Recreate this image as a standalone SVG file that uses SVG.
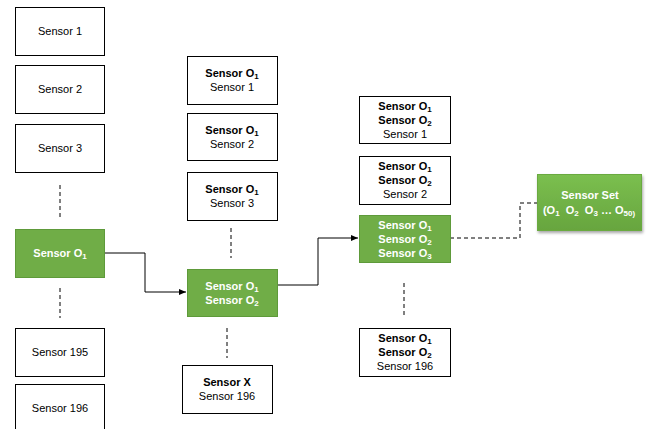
<svg xmlns="http://www.w3.org/2000/svg" width="649" height="429" viewBox="0 0 649 429">
<style>
text{font-family:"Liberation Sans","Open Sans",sans-serif;font-size:11px;text-anchor:middle;fill:#000}
.b{font-weight:bold}
.w{fill:#fff;font-weight:bold}
.s{font-size:8px}
.box{fill:#fff;stroke:#000;stroke-width:1}
.g{fill:#70AD47;stroke:#5E9A3A;stroke-width:1}
.dash{fill:none;stroke:#000;stroke-width:1;stroke-dasharray:4,3}
.ln{fill:none;stroke:#000;stroke-width:1}
</style>
<defs>
<marker id="ah" markerWidth="8" markerHeight="8" refX="7" refY="4" orient="auto" markerUnits="userSpaceOnUse"><path d="M0,1 L7,4 L0,7 Z" fill="#000"/></marker>
<filter id="sh" x="-10%" y="-10%" width="130%" height="140%"><feDropShadow dx="1" dy="2" stdDeviation="1.5" flood-color="#000" flood-opacity="0.35"/></filter>
<linearGradient id="gg" x1="0" y1="0" x2="0" y2="1"><stop offset="0" stop-color="#7BBF4F"/><stop offset="1" stop-color="#67A53E"/></linearGradient>
</defs>
<g id="connectors">
<line class="dash" x1="60" y1="185" x2="60" y2="218"/>
<line class="dash" x1="60" y1="288" x2="60" y2="318"/>
<line class="dash" x1="231" y1="228" x2="231" y2="258"/>
<line class="dash" x1="227" y1="328" x2="227" y2="358"/>
<line class="dash" x1="404" y1="283" x2="404" y2="315"/>
<polyline class="ln" points="104,253 145,253 145,292 186,292" marker-end="url(#ah)"/>
<polyline class="ln" points="277,285 318,285 318,238 358,238" marker-end="url(#ah)"/>
<polyline class="dash" points="450,238 520,238 520,203 537,203"/>
</g>
<g id="s1"><rect class="box" x="15.5" y="7.5" width="89" height="48"/><text x="60" y="35">Sensor 1</text></g>
<g id="s2"><rect class="box" x="15.5" y="65.5" width="89" height="48"/><text x="60" y="93">Sensor 2</text></g>
<g id="s3"><rect class="box" x="15.5" y="124.5" width="89" height="48"/><text x="60" y="152">Sensor 3</text></g>
<g id="so1"><rect class="g" x="15.5" y="229.5" width="89" height="48"/><text class="w" x="60" y="257">Sensor O<tspan class="s" dy="2">1</tspan></text></g>
<g id="s195"><rect class="box" x="15.5" y="328.5" width="89" height="48"/><text x="60" y="356">Sensor 195</text></g>
<g id="s196"><rect class="box" x="15.5" y="384.5" width="89" height="50"/><text x="60" y="412">Sensor 196</text></g>

<g id="c2s1"><rect class="box" x="187.5" y="56.5" width="90" height="48"/><text class="b" x="232" y="77">Sensor O<tspan class="s" dy="2">1</tspan></text><text x="232" y="91">Sensor 1</text></g>
<g id="c2s2"><rect class="box" x="187.5" y="113.5" width="90" height="47"/><text class="b" x="232" y="134">Sensor O<tspan class="s" dy="2">1</tspan></text><text x="232" y="148">Sensor 2</text></g>
<g id="c2s3"><rect class="box" x="187.5" y="172.5" width="90" height="48"/><text class="b" x="232" y="193">Sensor O<tspan class="s" dy="2">1</tspan></text><text x="232" y="207">Sensor 3</text></g>
<g id="c2g"><rect class="g" x="187.5" y="269.5" width="90" height="47"/><text class="w" x="232" y="290">Sensor O<tspan class="s" dy="2">1</tspan></text><text class="w" x="232" y="304">Sensor O<tspan class="s" dy="2">2</tspan></text></g>
<g id="c2x"><rect class="box" x="182.5" y="365.5" width="90" height="48"/><text class="b" x="227" y="386">Sensor X</text><text x="227" y="400">Sensor 196</text></g>

<g id="c3s1"><rect class="box" x="359.5" y="96.5" width="91" height="47"/><text class="b" x="405" y="110">Sensor O<tspan class="s" dy="2">1</tspan></text><text class="b" x="405" y="124">Sensor O<tspan class="s" dy="2">2</tspan></text><text x="405" y="138">Sensor 1</text></g>
<g id="c3s2"><rect class="box" x="359.5" y="156.5" width="91" height="48"/><text class="b" x="405" y="170">Sensor O<tspan class="s" dy="2">1</tspan></text><text class="b" x="405" y="184">Sensor O<tspan class="s" dy="2">2</tspan></text><text x="405" y="198">Sensor 2</text></g>
<g id="c3g"><rect class="g" x="359.5" y="215.5" width="91" height="47"/><text class="w" x="405" y="229">Sensor O<tspan class="s" dy="2">1</tspan></text><text class="w" x="405" y="243">Sensor O<tspan class="s" dy="2">2</tspan></text><text class="w" x="405" y="257">Sensor O<tspan class="s" dy="2">3</tspan></text></g>
<g id="c3s196"><rect class="box" x="359.5" y="328.5" width="91" height="48"/><text class="b" x="405" y="342">Sensor O<tspan class="s" dy="2">1</tspan></text><text class="b" x="405" y="356">Sensor O<tspan class="s" dy="2">2</tspan></text><text x="405" y="370">Sensor 196</text></g>

<g id="set"><rect x="537.5" y="174.5" width="104" height="56" fill="url(#gg)" stroke="#6AAA40" filter="url(#sh)"/><text class="w" x="590" y="199">Sensor Set</text><text class="w" x="589" y="214" xml:space="preserve">(O<tspan class="s" dy="2">1</tspan><tspan dy="-2">  O</tspan><tspan class="s" dy="2">2</tspan><tspan dy="-2">  O</tspan><tspan class="s" dy="2">3</tspan><tspan dy="-2"> … O</tspan><tspan class="s" dy="2">50)</tspan></text></g>
</svg>
